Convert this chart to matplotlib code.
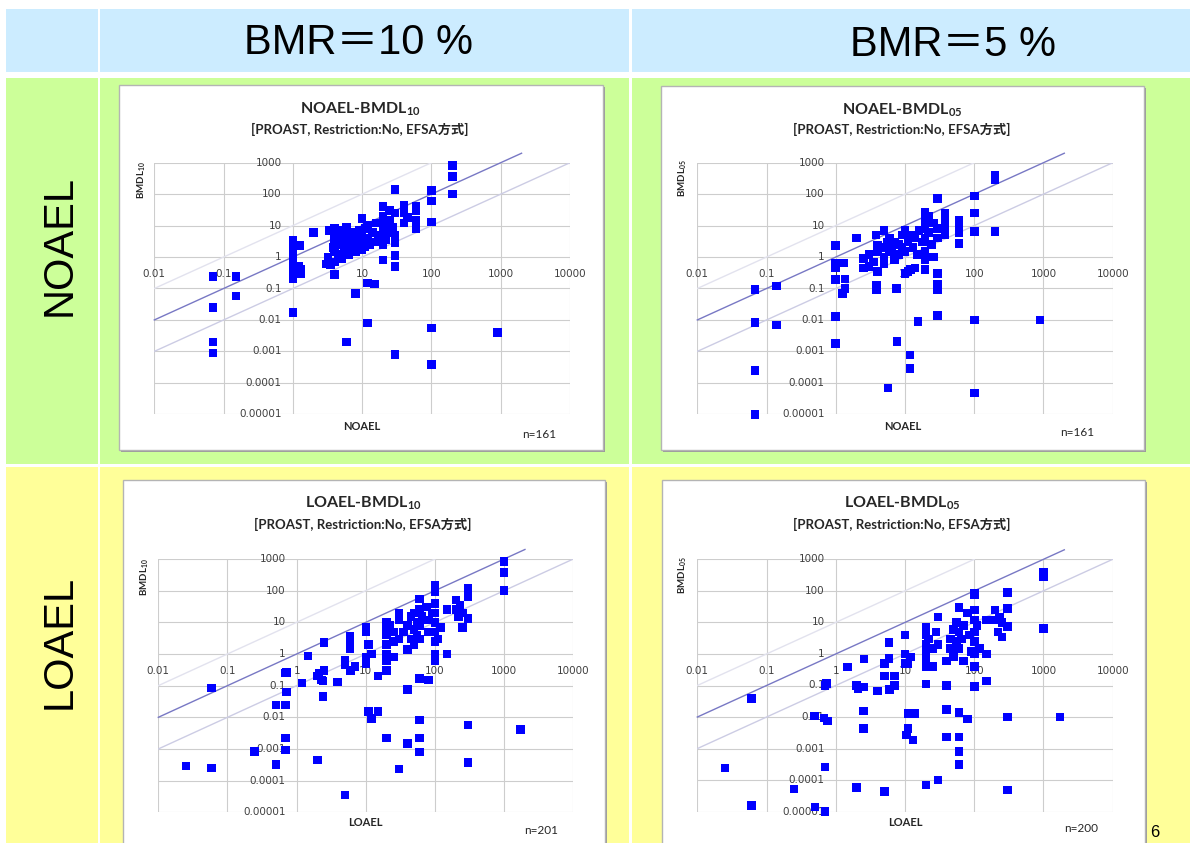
import matplotlib
matplotlib.use('Agg')
import matplotlib.pyplot as plt
from matplotlib.patches import Rectangle

plt.rcParams['mathtext.fontset'] = 'custom'
plt.rcParams['mathtext.rm'] = 'Lato'
plt.rcParams['mathtext.bf'] = 'Lato:bold'

# ---------------- data ----------------
col_headers = ["BMR＝10 %", "BMR＝5 %"]
row_headers = ["NOAEL", "LOAEL"]

x_ticks = [0.01, 0.1, 1, 10, 100, 1000, 10000]
x_tick_labels = ["0.01", "0.1", "1", "10", "100", "1000", "10000"]
y_ticks = [1e-5, 1e-4, 1e-3, 1e-2, 0.1, 1, 10, 100, 1000]
y_tick_labels = ["0.00001", "0.0001", "0.001", "0.01", "0.1", "1", "10", "100", "1000"]

# NOAEL vs BMDL10
p1_x = [0.07, 0.07, 0.07, 0.07, 0.15, 0.15,
        1, 1, 1, 1, 1, 1, 1, 1, 1.25, 1.3, 1.3, 1.2, 2,
        3, 3.2, 3.3, 3.5, 3.8, 4, 4, 4, 4, 4, 4, 4.5, 4.5, 5, 5, 5, 5.5, 5.5, 6, 6, 6, 6.5, 7, 7, 7.5, 8, 8, 9, 9,
        10, 10, 10, 10, 11, 11, 12, 12, 13, 14, 15, 16, 17,
        6, 8, 12, 12, 15,
        20, 20, 20, 20, 20, 20, 20, 22, 22, 24, 25, 25, 28, 30, 30, 30, 30, 30, 30, 30,
        40, 40, 40, 45, 60, 60, 60, 60,
        100, 100, 100, 100, 100, 200, 200, 200, 900]
p1_y = [0.24, 0.025, 0.002, 0.0009, 0.24, 0.058,
        3.5, 2.2, 1.3, 0.8, 0.5, 0.3, 0.2, 0.017, 2.3, 0.4, 0.3, 0.5, 6,
        0.6, 1.0, 7, 0.55, 2, 0.28, 0.7, 1.5, 3, 5, 8, 1.2, 2.5, 0.9, 4, 7, 1.5, 3, 2, 9, 5, 1.2, 3, 6, 2, 4, 1.5, 2.5, 7,
        3, 5, 17, 1.7, 8, 2.2, 4, 10, 2.5, 6, 3, 12, 5,
        0.002, 0.07, 0.008, 0.15, 0.14,
        0.8, 2.5, 4, 7, 12, 20, 40, 3.5, 10, 6, 15, 30, 9, 140, 1.1, 0.5, 2.8, 5, 25, 0.0008,
        12, 25, 45, 18, 8, 15, 30, 40,
        130, 60, 13, 0.0055, 0.00038, 800, 370, 100, 0.004]

# NOAEL vs BMDL05
p2_x = [0.068, 0.068, 0.068, 0.068, 0.14, 0.14,
        1, 1, 1, 1, 1, 1, 1.3, 1.25, 1.35, 1.35, 2,
        2.5, 2.5, 3, 3, 3.5, 3.8, 3.9, 3.9, 4, 4, 4,
        5, 5, 5, 5, 5.5, 6, 6, 6.5, 7, 7, 7.6, 8, 8, 9, 9, 10, 10, 10, 11, 11, 12, 12, 13, 14, 14, 15, 16, 18,
        5.7, 7.7, 11.8, 11.8, 15.5,
        19.5, 19.5, 19.5, 19.5, 19.5, 19.5, 19.5, 22, 22, 24, 26, 26,
        29.6, 29.6, 29.6, 29.6, 29.6, 29.6, 29.6,
        38, 38, 38, 38, 60, 60, 60, 60,
        100, 100, 100, 100, 100, 200, 200, 200, 890]
p2_y = [0.093, 0.0083, 0.00025, 0.00001, 0.12, 0.007,
        2.3, 0.63, 0.45, 0.19, 0.013, 0.0018, 0.65, 0.07, 0.2, 0.1, 4,
        0.9, 0.45, 1.2, 0.5, 0.7, 5, 0.13, 0.09, 1.5, 0.35, 2.3,
        1, 2, 7, 0.6, 3, 1.5, 4, 2, 0.8, 3, 0.1, 2.5, 1.2, 5, 2, 7, 1.5, 0.3, 3, 0.35, 0.4, 5, 2, 0.45, 4, 1.2, 7, 3,
        0.000068, 0.0021, 0.00078, 0.00029, 0.009,
        27, 15, 8, 4, 1.5, 0.8, 0.4, 20, 6, 2.5, 1.0, 12,
        74, 0.3, 0.14, 0.09, 0.014, 8, 4,
        25, 15, 8, 5, 15, 9, 6, 2.7,
        87, 25, 6.4, 0.01, 0.000047, 400, 280, 6.4, 0.01]

# LOAEL vs BMDL10
p3_x = [0.025, 0.059, 0.059, 0.245, 0.5, 0.5,
        0.69, 0.72, 0.72, 0.69, 0.69, 0.69,
        1.2, 1.47, 2.1, 2.3, 2.0, 2.5, 2.5, 2.4, 2.4, 2.0,
        3.9, 5, 5, 5, 5.9, 5.9, 5.9, 6, 7,
        10, 10, 10, 10, 11, 12, 15, 11, 12, 15,
        19.8, 19.8, 19.8, 19.8, 19.8, 19.8, 19.8, 20, 22, 25, 25, 25,
        30, 30, 30, 30, 35, 40, 40, 40, 40,
        45, 45, 50, 50, 50, 55, 55, 60, 60, 60, 60, 65, 60, 60, 60, 60,
        80, 75, 80, 80, 90,
        100, 100, 100, 100, 100, 100, 100, 100, 100, 110, 120, 150, 150,
        200, 200, 220, 230, 250, 250, 300, 300, 300, 300, 300,
        1000, 1000, 1000, 1740]
p3_y = [0.00029, 0.00025, 0.083, 0.00083, 0.0245, 0.00033,
        0.25, 0.26, 0.063, 0.0245, 0.0022, 0.00093,
        0.12, 0.87, 0.24, 0.15, 0.2, 2.3, 0.3, 0.14, 0.045, 0.00045,
        0.13, 0.65, 0.45, 0.000035, 3.5, 2.5, 1.5, 0.3, 0.4,
        7, 5, 0.8, 0.5, 2, 1, 0.2, 0.015, 0.009, 0.015,
        10, 6, 4, 2, 1, 0.6, 0.3, 0.0022, 8, 0.8, 5, 2.5,
        20, 12, 3, 0.00023, 5, 1.4, 8, 0.075, 0.0015,
        3, 15, 6, 2, 20, 4, 10, 55, 25, 8, 3, 15, 0.17, 0.0081, 0.0022, 0.00079,
        0.15, 30, 5, 12, 20,
        150, 93, 40, 20, 10, 5, 2.5, 1, 0.6, 3, 7, 25, 1.0,
        50, 25, 15, 35, 7, 20, 120, 65, 13, 0.0057, 0.00038,
        830, 380, 100, 0.0042]

# LOAEL vs BMDL05
p4_x = [0.025, 0.061, 0.061, 0.25,
        0.49, 0.68, 0.76, 0.7, 0.5, 0.7,
        0.74, 0.7, 1.47, 2.0, 2.1, 2.5, 2.55, 2.5, 2.5, 2.0,
        4, 5.1, 5.1, 5.1, 5.9, 5.9, 6, 7, 7,
        10, 10, 10, 11, 12, 11, 14, 10.5, 11, 13,
        20, 20, 20, 20, 20, 20, 22, 25, 25, 20, 20,
        30, 30, 28, 30, 40, 40, 40, 40,
        45, 45, 50, 50, 55, 55, 60, 60, 60, 65, 70, 70,
        60, 60, 60, 60, 80,
        80, 85, 90,
        100, 100, 100, 100, 100, 100, 100, 100, 100, 110, 120,
        150, 150, 150,
        200, 200, 220, 230, 250, 250,
        300, 300, 300, 300, 300,
        1000, 1000, 1000, 1740]
p4_y = [0.00024, 0.039, 0.000016, 0.000052,
        0.0107, 0.0093, 0.0076, 0.00026, 0.000014, 0.00001,
        0.117, 0.1, 0.38, 0.1, 0.08, 0.09, 0.69, 0.0155, 0.0043, 0.000059,
        0.066, 0.000043, 0.5, 0.2, 2.3, 0.72, 0.075, 0.2, 0.1,
        4, 1, 0.5, 0.5, 0.8, 0.013, 0.013, 0.0027, 0.0043, 0.0019,
        7, 4, 2, 1.2, 0.7, 0.4, 3, 1.5, 0.4, 0.11, 0.00007,
        15, 2, 5, 0.0001, 0.6, 0.1, 0.017, 0.0023,
        3, 1.5, 6, 0.8, 2.5, 10, 30, 5, 1.5, 3, 8, 0.6,
        0.014, 0.0023, 0.00082, 0.00031, 0.0088,
        20, 4, 1.2,
        85, 75, 25, 12, 5, 2.5, 1, 0.4, 0.094, 8, 1.5,
        12, 1, 0.14,
        25, 12, 5, 15, 3.5, 10,
        88, 28, 7.3, 0.01, 0.000048,
        400, 280, 6.5, 0.01]

panel_titles = ["NOAEL-BMDL$_{\\mathbf{10}}$", "NOAEL-BMDL$_{\\mathbf{05}}$",
                "LOAEL-BMDL$_{\\mathbf{10}}$", "LOAEL-BMDL$_{\\mathbf{05}}$"]
panel_sub = "[PROAST, Restriction:No, EFSA方式]"
panel_ylabels = ["BMDL$_{\\mathbf{10}}$", "BMDL$_{\\mathbf{05}}$",
                 "BMDL$_{\\mathbf{10}}$", "BMDL$_{\\mathbf{05}}$"]
panel_xlabels = ["NOAEL", "NOAEL", "LOAEL", "LOAEL"]
panel_n = ["n=161", "n=161", "n=201", "n=200"]

# reference lines (y = 10x, y = x, y = x/10)
ref_x_hi, ref_y_hi = [0.01, 100], [0.1, 1000]
ref_x_eq, ref_y_eq = [0.01, 2000], [0.01, 2000]
ref_x_lo, ref_y_lo = [0.01, 10000], [0.001, 1000]

# ---------------- layout ----------------
W, H = 1190, 843
fig = plt.figure(figsize=(W / 100, H / 100), dpi=100)
bg = fig.add_axes([0, 0, 1, 1])
bg.set_xlim(0, W)
bg.set_ylim(H, 0)
bg.axis('off')

HEAD = '#CCECFF'
GREEN = '#CCFF99'
YELLOW = '#FFFF99'

def rect(x0, y0, x1, y1, fc, ec='none', lw=0, z=1):
    bg.add_patch(Rectangle((x0, y0), x1 - x0, y1 - y0, fc=fc, ec=ec, lw=lw, zorder=z))

# table cells
rect(6, 9, 98, 72, HEAD)
rect(100, 9, 629, 72, HEAD)
rect(632, 9, 1190, 72, HEAD)
rect(6, 78, 98, 463.5, GREEN)
rect(100, 78, 629, 463.5, GREEN)
rect(632, 78, 1190, 463.5, GREEN)
rect(6, 467, 98, 843, YELLOW)
rect(100, 467, 629, 843, YELLOW)
rect(632, 467, 1190, 843, YELLOW)

hfont = ['Liberation Sans', 'Noto Sans CJK JP']
bg.text(359, 43, col_headers[0], fontsize=30, family=hfont, ha='center', va='center', zorder=5)
bg.text(953, 45, col_headers[1], fontsize=30, family=hfont, ha='center', va='center', zorder=5)
bg.text(60, 245, row_headers[0], fontsize=30, family=hfont, ha='center', va='center', rotation=90, zorder=5)
bg.text(60, 642, row_headers[1], fontsize=30, family=hfont, ha='center', va='center', rotation=90, zorder=5)
bg.text(1150, 840, "6", fontsize=12, family=hfont, ha='left', va='bottom', zorder=5)

cfont = ['Lato', 'Noto Sans CJK JP']

panels = [
    dict(box=(119, 85, 603, 450), ax=(154.3, 162.7, 570, 414.3), cx=360, ty=109, sy=129,
         yl=(142, 180), xl=(362, 426), nl=(539, 434)),
    dict(box=(661, 86, 1144, 450), ax=(697.3, 162.7, 1112.7, 414.3), cx=902, ty=110, sy=129,
         yl=(683, 178), xl=(903, 426), nl=(1077, 432)),
    dict(box=(123, 480, 605, 860), ax=(158.3, 559, 573.3, 812.3), cx=363, ty=503, sy=524,
         yl=(145, 577), xl=(365, 823), nl=(541, 831)),
    dict(box=(662, 480, 1145, 860), ax=(697.3, 559.3, 1112.7, 811.7), cx=902, ty=503, sy=524,
         yl=(683, 575), xl=(905, 823), nl=(1081, 829)),
]
data_x = [p1_x, p2_x, p3_x, p4_x]
data_y = [p1_y, p2_y, p3_y, p4_y]

for i, p in enumerate(panels):
    x0, y0, x1, y1 = p['box']
    rect(x0 + 2, y0 + 2, x1 + 2, y1 + 2, '#9a9a9a', z=2)
    rect(x0, y0, x1, y1, 'white', ec='#b4b4b4', lw=1, z=3)
    bg.text(p['cx'], p['ty'], panel_titles[i], fontsize=11.5, fontweight='bold', family=cfont,
            ha='center', va='center', color='#262626', zorder=5)
    bg.text(p['cx'], p['sy'], panel_sub, fontsize=9.5, fontweight='bold', family=cfont,
            ha='center', va='center', color='#262626', zorder=5)
    bg.text(p['yl'][0], p['yl'][1], panel_ylabels[i], fontsize=7, fontweight='bold', family=cfont,
            ha='center', va='center', rotation=90, color='#262626', zorder=5)
    bg.text(p['xl'][0], p['xl'][1], panel_xlabels[i], fontsize=8, fontweight='bold', family=cfont,
            ha='center', va='center', color='#262626', zorder=5)
    bg.text(p['nl'][0], p['nl'][1], panel_n[i], fontsize=8.5, family=cfont,
            ha='center', va='center', color='#262626', zorder=5)

    ax0, ay0, ax1, ay1 = p['ax']
    ax = fig.add_axes([ax0 / W, 1 - ay1 / H, (ax1 - ax0) / W, (ay1 - ay0) / H])
    ax.set_xscale('log')
    ax.set_yscale('log')
    ax.set_xlim(x_ticks[0], x_ticks[-1])
    ax.set_ylim(y_ticks[0], y_ticks[-1])
    ax.patch.set_alpha(0)
    for s in ax.spines.values():
        s.set_visible(False)
    ax.set_xticks(x_ticks)
    ax.set_yticks(y_ticks)
    ax.minorticks_off()
    ax.tick_params(length=0, labelbottom=False, labelleft=False)
    ax.grid(True, color='#cdcdcd', lw=0.8, zorder=0)
    ax.set_axisbelow(True)

    ax.plot(ref_x_hi, ref_y_hi, color='#e2e2ee', lw=1, zorder=1)
    ax.plot(ref_x_lo, ref_y_lo, color='#ccccE4', lw=1, zorder=1)
    ax.plot(ref_x_eq, ref_y_eq, color='#7878c4', lw=1, zorder=2, clip_on=False)

    for v, lab in zip(x_ticks, x_tick_labels):
        ax.annotate(lab, xy=(v, 1), xytext=(0, -12), textcoords='offset points',
                    ha='center', va='center', fontsize=7.5, family='DejaVu Sans',
                    color='#404040', zorder=3, annotation_clip=False)
    for v, lab in zip(y_ticks, y_tick_labels):
        ax.annotate(lab, xy=(1, v), xytext=(-8, 0), textcoords='offset points',
                    ha='right', va='center', fontsize=7.5, family='DejaVu Sans',
                    color='#404040', zorder=3, annotation_clip=False)

    ax.scatter(data_x[i], data_y[i], marker='s', s=38, c='#0000ff',
               edgecolors='none', zorder=5, clip_on=False)

fig.savefig('out.png', dpi=100)
